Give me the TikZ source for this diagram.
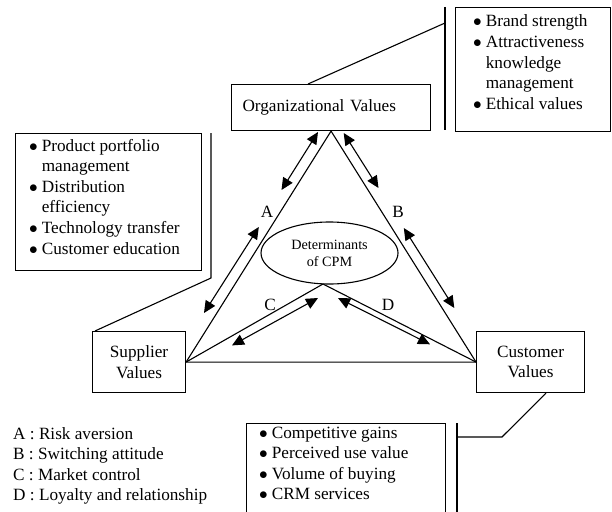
\documentclass[tikz,border=0pt]{standalone}
\usepackage{fontspec}
\setmainfont{Liberation Serif}
\usetikzlibrary{arrows.meta,shapes.geometric,calc}
\newcommand{\bul}{$\bullet$}
\begin{document}
\begin{tikzpicture}[x=1pt,y=-1pt,
  every node/.style={font=\fontsize{17.2}{20.6}\selectfont},
  box/.style={draw, line width=1.1pt, inner sep=0pt, anchor=north west},
  ln/.style={line width=1.1pt},
  dbl/.style={line width=1.1pt, {Triangle[length=12pt,width=11pt]}-{Triangle[length=12pt,width=11pt]}},
  lst/.style={anchor=base west, inner sep=0pt, align=left},
  lbl/.style={inner sep=0pt}
]
\useasboundingbox (0,0) rectangle (612,511);
\clip (0,0) rectangle (612,511);

% boxes
\node[box, minimum width=199, minimum height=46, text width=177, inner xsep=11, align=left] (org) at (231,84) {\mbox{Organizational Values}};
\node[box, minimum width=93, minimum height=61, align=center] (sup) at (92,331) {Supplier\\Values};
\node[box, minimum width=108, minimum height=61, align=center] (cus) at (476,331) {Customer\\Values};
\node[draw, ellipse, line width=1.1pt, minimum width=137, minimum height=62, inner sep=0pt, align=center, font=\fontsize{14.2}{17}\selectfont] (cpm) at (329.5,253) {Determinants\\of CPM};

% list boxes
\node[box, minimum width=155, minimum height=124] (rbox) at (455,7) {};
\node[lst] (rtext) at (473,27) {\begin{tabular}[t]{@{}l@{\hspace{4pt}}l@{}}
\bul & Brand strength\\
\bul & Attractiveness\\
 & knowledge\\
 & management\\
\bul & Ethical values
\end{tabular}};

\node[box, minimum width=186, minimum height=137] (lbox) at (15,133) {};
\node[lst] (ltext) at (29,151) {\begin{tabular}[t]{@{}l@{\hspace{4pt}}l@{}}
\bul & Product portfolio\\
 & management\\
\bul & Distribution\\
 & efficiency\\
\bul & Technology transfer\\
\bul & Customer education
\end{tabular}};

\node[box, minimum width=199, minimum height=110] (bbox) at (246,423) {};
\node[lst] (btext) at (259,438) {\begin{tabular}[t]{@{}l@{\hspace{4pt}}l@{}}
\bul & Competitive gains\\
\bul & Perceived use value\\
\bul & Volume of buying\\
\bul & CRM services
\end{tabular}};

\node[lst] (legend) at (13,439) {\begin{tabular}[t]{@{}l@{}}
A : Risk aversion\\
B : Switching attitude\\
C : Market control\\
D : Loyalty and relationship
\end{tabular}};

% callout connectors
\coordinate (rb1) at (445,7);
\coordinate (rb2) at (445,130);
\coordinate (rbj) at (445,23);
\draw[ln] (rb1) -- (rb2);
\draw[ln] ($(org.north west)+(77,0)$) -- (rbj);

\coordinate (lb1) at (211,133);
\coordinate (lb2) at (211,278);
\draw[ln] (lb1) -- (lb2) -- ($(sup.north west)+(3,0)$);

\coordinate (bb1) at (457,423);
\coordinate (bb2) at (457,530);
\coordinate (bj) at (457,437);
\coordinate (bk) at (502,437);
\draw[ln] (bb1) -- (bb2);
\draw[ln] ($(cus.south west)+(70,0)$) -- (bk) -- (bj);

% triangle
\coordinate (cpmb) at (323,284);
\draw[ln] (org.south) -- (sup.east) -- (cus.west) -- cycle;
\draw[ln] (sup.east) -- (cpmb) -- (cus.west);

% double arrows
\coordinate (a1) at (318,132);
\coordinate (a2) at (281.5,190);
\coordinate (a3) at (258.8,227);
\coordinate (a4) at (204,313);
\coordinate (b1) at (343.7,133);
\coordinate (b2) at (378.5,188);
\coordinate (b3) at (403.8,228);
\coordinate (b4) at (454.3,308);
\coordinate (c1) at (318,298);
\coordinate (c2) at (232,345.4);
\coordinate (d1) at (338,298);
\coordinate (d2) at (430,344.3);
\draw[dbl] (a1) -- (a2);
\draw[dbl] (a3) -- (a4);
\draw[dbl] (b1) -- (b2);
\draw[dbl] (b3) -- (b4);
\draw[dbl] (c1) -- (c2);
\draw[dbl] (d1) -- (d2);

% labels
\node[lbl] (la) at (267,212) {A};
\node[lbl] (lb) at (398,212) {B};
\node[lbl] (lc) at (270,305) {C};
\node[lbl] (ld) at (388,305) {D};
\end{tikzpicture}
\end{document}
